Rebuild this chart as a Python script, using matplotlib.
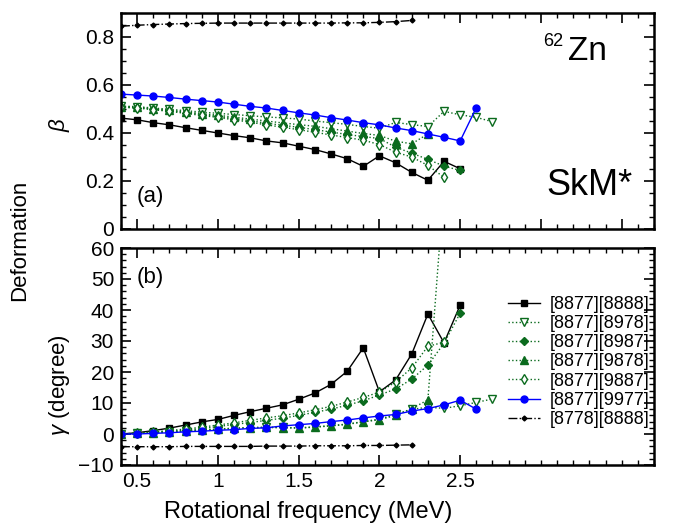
import matplotlib
matplotlib.use("Agg")
import matplotlib.pyplot as plt
from matplotlib.ticker import MultipleLocator

plt.rcParams['font.family'] = ['Liberation Sans', 'DejaVu Sans']
plt.rcParams['mathtext.fontset'] = 'custom'
plt.rcParams['mathtext.it'] = 'Liberation Sans:italic'

# rotational frequency grids (MeV)
w22 = [0.4, 0.5, 0.6, 0.7, 0.8, 0.9, 1.0, 1.1, 1.2, 1.3, 1.4, 1.5, 1.6, 1.7, 1.8, 1.9, 2.0, 2.1, 2.2]
w23 = w22 + [2.3]
w24 = w23 + [2.4]
w25 = w24 + [2.5]
w26 = w25 + [2.6]
w27 = w26 + [2.7]

# [8877][8888]
beta_8888 = [0.462, 0.455, 0.443, 0.434, 0.422, 0.411, 0.400, 0.389, 0.380, 0.367, 0.359,
             0.345, 0.331, 0.313, 0.293, 0.261, 0.305, 0.276, 0.236, 0.203, 0.282, 0.251]
gam_8888 = [0.0, 0.4, 1.1, 1.9, 2.9, 3.9, 4.7, 6.0, 7.2, 8.3, 9.4,
            11.2, 13.2, 16.0, 20.2, 27.8, 13.6, 17.4, 25.8, 38.7, 29.4, 41.6]
# [8877][8978]
beta_8978 = [0.512, 0.510, 0.504, 0.499, 0.493, 0.487, 0.482, 0.477, 0.472, 0.467, 0.463, 0.458,
             0.450, 0.443, 0.436, 0.427, 0.420, 0.444, 0.435, 0.427, 0.490, 0.476, 0.465, 0.447]
gam_8978 = [0.0, 0.2, 0.4, 0.7, 1.0, 1.3, 1.6, 1.9, 2.1, 2.2, 2.1, 2.0,
            2.3, 2.7, 3.2, 4.0, 4.8, 6.3, 8.0, 8.6, 8.3, 9.1, 10.2, 11.3]
# [8877][8987]
beta_8987 = [0.508, 0.506, 0.499, 0.493, 0.485, 0.477, 0.469, 0.460, 0.451, 0.441, 0.432,
             0.424, 0.414, 0.404, 0.394, 0.385, 0.377, 0.341, 0.316, 0.290, 0.262, 0.244]
gam_8987 = [0.0, 0.2, 0.5, 0.9, 1.3, 1.7, 2.4, 3.1, 3.7, 4.4, 5.1,
            6.0, 7.0, 8.0, 9.3, 10.7, 12.6, 14.5, 17.7, 22.2, 29.3, 39.0]
# [8877][9878]
beta_9878 = [0.510, 0.508, 0.501, 0.495, 0.488, 0.481, 0.474, 0.466, 0.458, 0.450,
             0.442, 0.435, 0.428, 0.418, 0.408, 0.398, 0.390, 0.366, 0.355, 0.396]
gam_9878 = [0.0, 0.2, 0.4, 0.6, 0.9, 1.2, 1.5, 1.8, 2.0, 2.1,
            2.0, 1.9, 2.2, 2.6, 3.1, 3.9, 4.6, 6.0, 8.2, 11.0, 80.0]
# [8877][9887]
beta_9887 = [0.507, 0.504, 0.497, 0.490, 0.482, 0.473, 0.465, 0.455, 0.445, 0.434, 0.424,
             0.414, 0.403, 0.392, 0.381, 0.370, 0.352, 0.320, 0.300, 0.265, 0.215]
gam_9887 = [0.0, 0.3, 0.7, 1.1, 1.6, 2.2, 2.9, 3.6, 4.4, 5.2, 5.9,
            6.8, 7.8, 8.9, 10.3, 11.8, 13.5, 16.8, 21.3, 28.3, 29.6]
# [8877][9977]
beta_9977 = [0.562, 0.558, 0.554, 0.548, 0.541, 0.535, 0.529, 0.520, 0.511, 0.504, 0.494, 0.484,
             0.475, 0.464, 0.454, 0.443, 0.434, 0.421, 0.410, 0.396, 0.382, 0.367, 0.506]
gam_9977 = [0.0, 0.0, 0.2, 0.4, 0.7, 0.9, 1.2, 1.4, 1.8, 2.0, 2.6, 3.0,
            3.4, 4.0, 4.5, 5.2, 5.8, 6.3, 7.4, 8.2, 9.4, 10.9, 8.0]
# [8778][8888]
beta_8778 = [0.845, 0.849, 0.852, 0.854, 0.856, 0.857, 0.858, 0.858, 0.858, 0.858,
             0.858, 0.858, 0.858, 0.858, 0.859, 0.859, 0.861, 0.864, 0.869]
gam_8778 = [-4.1, -4.1, -4.1, -4.1, -4.0, -4.0, -4.0, -4.0, -4.0, -3.9,
            -3.9, -3.9, -3.8, -3.8, -3.8, -3.7, -3.7, -3.6, -3.5]

green = '#0b6b1e'
series = [
    ('[8877][8888]', w25, beta_8888, w25, gam_8888,
     dict(color='black', ls='-', marker='s', ms=4.5, mfc='black', lw=1)),
    ('[8877][8978]', w27, beta_8978, w27, gam_8978,
     dict(color=green, ls=':', marker='v', ms=5.5, mfc='white', lw=1)),
    ('[8877][8987]', w25, beta_8987, w25, gam_8987,
     dict(color=green, ls=':', marker='D', ms=4.5, mfc=green, lw=1)),
    ('[8877][9878]', w23, beta_9878, w24, gam_9878,
     dict(color=green, ls=':', marker='^', ms=5.5, mfc=green, lw=1)),
    ('[8877][9887]', w24, beta_9887, w24, gam_9887,
     dict(color=green, ls=':', marker='d', ms=5.5, mfc='white', lw=1)),
    ('[8877][9977]', w26, beta_9977, w26, gam_9977,
     dict(color='#0000ff', ls='-', marker='o', ms=5, mfc='#0000ff', lw=1)),
    ('[8778][8888]', w22, beta_8778, w22, gam_8778,
     dict(color='black', ls='-.', marker='D', ms=2.5, mfc='black', lw=1)),
]

fig = plt.figure(figsize=(6.75, 5.25), dpi=100)
ax1 = fig.add_axes([121 / 675, 1 - 229 / 525, 533 / 675, 216 / 525])
ax2 = fig.add_axes([121 / 675, 1 - 465 / 525, 533 / 675, 217 / 525])

for name, xb, yb, xg, yg, st in series:
    ax1.plot(xb, yb, mew=1, **st)
    ax2.plot(xg, yg, mew=1, label=name, **st)

for ax in (ax1, ax2):
    ax.set_xlim(0.4, 3.7)
    ax.xaxis.set_major_locator(MultipleLocator(0.5))
    ax.xaxis.set_minor_locator(MultipleLocator(0.1))
    ax.tick_params(which='both', direction='in', top=True, right=True, labelsize=15)
    ax.tick_params(which='major', length=7, width=1.2, pad=5)
    ax.tick_params(which='minor', length=3.5, width=1)
    for sp in ax.spines.values():
        sp.set_linewidth(1.8)

ax1.set_ylim(0, 0.9)
ax1.yaxis.set_minor_locator(MultipleLocator(0.05))
ax1.set_yticks([0, 0.2, 0.4, 0.6, 0.8], ['0', '0.2', '0.4', '0.6', '0.8'])
ax1.tick_params(labelbottom=False)

ax2.set_ylim(-10, 60)
ax2.yaxis.set_major_locator(MultipleLocator(10))
ax2.yaxis.set_minor_locator(MultipleLocator(2))
ax2.set_xticks([0.5, 1, 1.5, 2, 2.5], ['0.5', '1', '1.5', '2', '2.5'])

ax1.text(0.03, 0.15, '(a)', transform=ax1.transAxes, fontsize=16, va='center')
ax2.text(0.03, 0.866, '(b)', transform=ax2.transAxes, fontsize=16, va='center')
ax1.text(0.912, 0.82, 'Zn', transform=ax1.transAxes, fontsize=24, ha='right', va='center')
ax1.text(0.83, 0.87, '62', transform=ax1.transAxes, fontsize=13, ha='right', va='center')
ax1.text(0.959, 0.20, 'SkM*', transform=ax1.transAxes, fontsize=26, ha='right', va='center')

fig.text(308 / 675, 1 - 512 / 525, 'Rotational frequency (MeV)', fontsize=17, ha='center', va='center')
fig.text(20 / 675, 1 - 240 / 525, 'Deformation', rotation=90, fontsize=16, ha='center', va='center')
fig.text(60 / 675, 1 - 125 / 525, r'$\beta$', rotation=90, fontsize=16, ha='center', va='center')
fig.text(60 / 675, 1 - 385 / 525, r'$\gamma$ (degree)', rotation=90, fontsize=16, ha='center', va='center')

ax2.legend(loc='upper left', bbox_to_anchor=(508 / 675, 1 - 296 / 525),
           bbox_transform=fig.transFigure, frameon=False, fontsize=13,
           handlelength=1.75, handletextpad=0.55, labelspacing=0.12,
           borderpad=0, borderaxespad=0, numpoints=1)

fig.savefig('out.png', dpi=100)
